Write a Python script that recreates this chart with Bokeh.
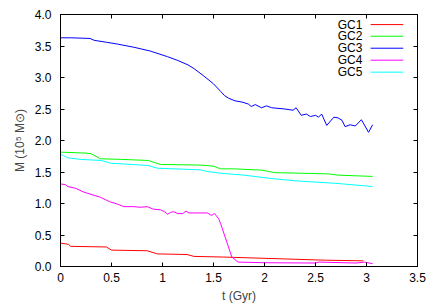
from bokeh.plotting import figure
from bokeh.models import Range1d, LinearAxis, FixedTicker
from bokeh.core.properties import value
from bokeh.embed import file_html
from bokeh.resources import INLINE

# ---- data ----
t_gc1 = [0, 0.05, 0.08, 0.10, 0.45, 0.50, 0.85, 0.95, 1.24, 1.31, 1.60, 2.20, 2.60, 2.97]
m_gc1 = [0.37, 0.36, 0.35, 0.32, 0.31, 0.26, 0.25, 0.20, 0.19, 0.16, 0.15, 0.12, 0.10, 0.09]

t_gc2 = [0, 0.25, 0.30, 0.39, 0.60, 0.86, 0.98, 1.37, 1.50, 1.57, 1.70, 1.97, 2.10, 2.63, 2.72, 3.06]
m_gc2 = [1.815, 1.80, 1.79, 1.71, 1.70, 1.683, 1.62, 1.61, 1.593, 1.55, 1.55, 1.53, 1.49, 1.47, 1.45, 1.43]

t_gc3 = [0, 0.10, 0.29, 0.33, 0.45, 0.56, 0.72, 0.88, 1.05, 1.15, 1.25, 1.31, 1.40, 1.50,
         1.57, 1.61, 1.65, 1.71, 1.78, 1.84, 1.87, 1.91, 1.97, 2.02, 2.07, 2.20, 2.28, 2.31,
         2.36, 2.41, 2.45, 2.50, 2.53, 2.56, 2.61, 2.68, 2.72, 2.76, 2.79, 2.84, 2.89, 2.95,
         3.02, 3.06]
m_gc3 = [3.63, 3.63, 3.62, 3.59, 3.56, 3.53, 3.48, 3.42, 3.33, 3.27, 3.20, 3.14, 3.03, 2.90,
         2.78, 2.71, 2.67, 2.63, 2.61, 2.58, 2.54, 2.57, 2.52, 2.55, 2.52, 2.50, 2.48, 2.52,
         2.40, 2.42, 2.38, 2.40, 2.37, 2.42, 2.24, 2.37, 2.36, 2.32, 2.22, 2.25, 2.23, 2.33,
         2.13, 2.25]

t_gc4 = [0, 0.05, 0.07, 0.15, 0.23, 0.39, 0.48, 0.56, 0.62, 0.72, 0.78, 0.85, 0.91, 0.98,
         1.02, 1.05, 1.08, 1.11, 1.15, 1.20, 1.23, 1.26, 1.35, 1.44, 1.48, 1.51, 1.55, 1.57,
         1.68, 1.74, 2.00, 2.50, 2.53, 2.90, 2.98, 3.06]
m_gc4 = [1.31, 1.30, 1.27, 1.24, 1.18, 1.10, 1.03, 0.99, 0.95, 0.95, 0.94, 0.95, 0.91, 0.90,
         0.87, 0.83, 0.86, 0.87, 0.84, 0.84, 0.88, 0.85, 0.85, 0.85, 0.81, 0.84, 0.76, 0.68,
         0.15, 0.07, 0.06, 0.055, 0.07, 0.055, 0.07, 0.045]

t_gc5 = [0, 0.03, 0.07, 0.20, 0.40, 0.49, 0.86, 0.95, 1.20, 1.37, 1.44, 1.57, 1.80, 2.05, 2.30, 2.70, 3.06]
m_gc5 = [1.78, 1.76, 1.725, 1.70, 1.683, 1.64, 1.603, 1.56, 1.545, 1.534, 1.508, 1.48, 1.45, 1.40, 1.36, 1.32, 1.27]

series_names = ["GC1", "GC2", "GC3", "GC4", "GC5"]
series_colors = ["#ff0000", "#00ff00", "#0000ff", "#ff00ff", "#00ffff"]

x_ticks = [0, 0.5, 1, 1.5, 2, 2.5, 3, 3.5]
x_tick_labels = ["0", "0.5", "1", "1.5", "2", "2.5", "3", "3.5"]
y_ticks = [0, 0.5, 1, 1.5, 2, 2.5, 3, 3.5, 4]
y_tick_labels = ["0.0", "0.5", "1.0", "1.5", "2.0", "2.5", "3.0", "3.5", "4.0"]

# legend placement (data coords of the key block)
leg_text_x = 2.96
leg_line_x0, leg_line_x1 = 3.04, 3.36
leg_rows_y = [3.84, 3.655, 3.465, 3.275, 3.085]

FONT = "Liberation Sans"

p = figure(width=436, height=305, x_range=Range1d(0, 3.5), y_range=Range1d(0, 4),
           output_backend="svg", toolbar_location=None,
           min_border_left=60, min_border_right=19, min_border_top=14, min_border_bottom=39)
p.xgrid.visible = False
p.ygrid.visible = False
p.outline_line_color = "black"
p.outline_line_alpha = 1.0
p.outline_line_width = 1
p.background_fill_color = "white"
p.border_fill_color = "white"

def style_axis(ax, ticks, labels, show_labels=True):
    ax.ticker = FixedTicker(ticks=ticks)
    ax.minor_tick_line_color = None
    ax.major_tick_in = 4
    ax.major_tick_out = 0
    ax.major_tick_line_color = "black"
    ax.axis_line_color = "black"
    ax.major_label_text_font = FONT
    if show_labels:
        ax.major_label_overrides = {t: l for t, l in zip(ticks, labels)}
        ax.major_label_text_color = "black"
        ax.major_label_text_font_size = "12px"
    else:
        ax.major_label_text_color = None
        ax.major_label_text_font_size = "1px"
        ax.major_label_standoff = 0

xa = p.xaxis[0]
style_axis(xa, x_ticks, x_tick_labels)
xa.major_label_standoff = 6
xa.axis_label = "t (Gyr)"
xa.axis_label_text_font = FONT
xa.axis_label_text_font_size = "12px"
xa.axis_label_text_font_style = "normal"
xa.axis_label_standoff = 4

ya = p.yaxis[0]
style_axis(ya, y_ticks, y_tick_labels)
ya.major_label_standoff = 9
ya.axis_label = "M (10\u2075 M\u2299)"
ya.axis_label_text_font = FONT
ya.axis_label_text_font_size = "12px"
ya.axis_label_text_font_style = "normal"
ya.axis_label_standoff = 5

top = LinearAxis()
style_axis(top, x_ticks, x_tick_labels, show_labels=False)
p.add_layout(top, "above")
right = LinearAxis()
style_axis(right, y_ticks, y_tick_labels, show_labels=False)
p.add_layout(right, "right")

all_t = [t_gc1, t_gc2, t_gc3, t_gc4, t_gc5]
all_m = [m_gc1, m_gc2, m_gc3, m_gc4, m_gc5]
for tt, mm, c in zip(all_t, all_m, series_colors):
    p.line(tt, mm, line_color=c, line_width=1)

# gnuplot-style key: label on the left, sample line on the right
p.text(x=[leg_text_x] * len(series_names), y=leg_rows_y, text=series_names,
       text_font=value(FONT), text_font_size="12px", text_align="right",
       text_baseline="middle", text_color="black")
p.segment(x0=[leg_line_x0] * 5, y0=leg_rows_y, x1=[leg_line_x1] * 5, y1=leg_rows_y,
          line_color=series_colors, line_width=1)

open("out.html", "w").write(file_html(p, INLINE))
